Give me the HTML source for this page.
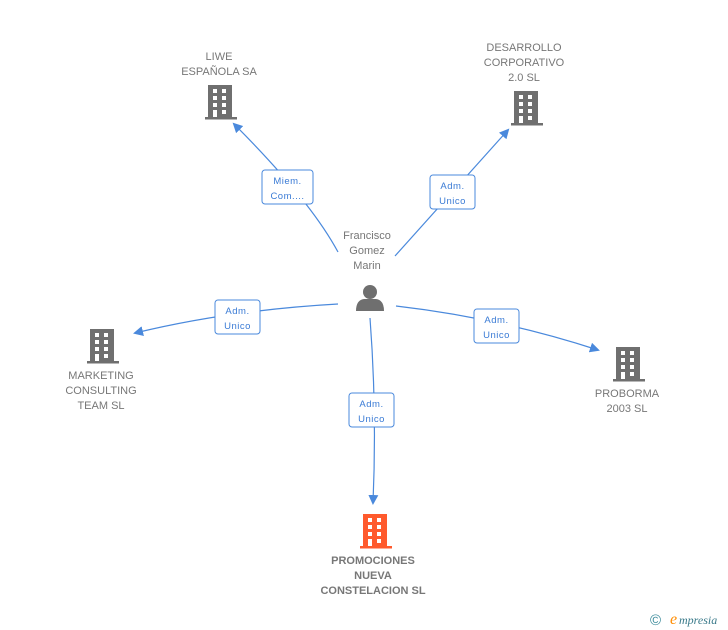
<!DOCTYPE html>
<html><head><style>
body{margin:0;background:#fff;}
svg{display:block;font-family:"Liberation Sans",sans-serif;}
.n{fill:#777;font-size:11px;text-anchor:middle;}
.l{fill:#3a7bd5;font-size:9.5px;text-anchor:middle;letter-spacing:0.5px;}
.e{stroke:#4a89dc;stroke-width:1.2;fill:none;}
.b{fill:#fff;stroke:#4a89dc;stroke-width:1;}
</style></head><body>
<svg width="728" height="630" viewBox="0 0 728 630">
<defs>
<g id="bld">
<rect x="3" y="0" width="24" height="32"/>
<rect x="0" y="32" width="32" height="2.5"/>
<g fill="#fff">
<rect x="8" y="4" width="4" height="4"/><rect x="17" y="4" width="4" height="4"/>
<rect x="8" y="11" width="4" height="4"/><rect x="17" y="11" width="4" height="4"/>
<rect x="8" y="18" width="4" height="4"/><rect x="17" y="18" width="4" height="4"/>
<rect x="8" y="25" width="4" height="7"/><rect x="17" y="25" width="4" height="4"/>
</g></g>
<marker id="a" markerWidth="10" markerHeight="10" refX="8" refY="5" orient="auto" markerUnits="userSpaceOnUse"><path d="M0,0 L10,5 L0,10 z" fill="#4a89dc"/></marker>
</defs>
<!-- edges -->
<path class="e" d="M338,252 Q310,200 234,124" marker-end="url(#a)"/>
<path class="e" d="M395,256 L508,130" marker-end="url(#a)"/>
<path class="e" d="M338,304 Q230,310 135,333" marker-end="url(#a)"/>
<path class="e" d="M396,306 Q500,318 598,350" marker-end="url(#a)"/>
<path class="e" d="M370,318 Q377,410 373,503" marker-end="url(#a)"/>
<!-- labels -->
<rect class="b" x="262" y="170" width="51" height="34" rx="3"/>
<text class="l" x="287.5" y="184">Miem.</text><text class="l" x="287.5" y="199">Com....</text>
<rect class="b" x="430" y="175" width="45" height="34" rx="3"/>
<text class="l" x="452.5" y="189">Adm.</text><text class="l" x="452.5" y="204">Unico</text>
<rect class="b" x="215" y="300" width="45" height="34" rx="3"/>
<text class="l" x="237.5" y="314">Adm.</text><text class="l" x="237.5" y="329">Unico</text>
<rect class="b" x="474" y="309" width="45" height="34" rx="3"/>
<text class="l" x="496.5" y="323">Adm.</text><text class="l" x="496.5" y="338">Unico</text>
<rect class="b" x="349" y="393" width="45" height="34" rx="3"/>
<text class="l" x="371.5" y="407">Adm.</text><text class="l" x="371.5" y="422">Unico</text>
<!-- buildings -->
<use href="#bld" x="205" y="85" fill="#6f6f6f"/>
<use href="#bld" x="511" y="91" fill="#6f6f6f"/>
<use href="#bld" x="87" y="329" fill="#6f6f6f"/>
<use href="#bld" x="613" y="347" fill="#6f6f6f"/>
<use href="#bld" x="360" y="514" fill="#ff5a2d"/>
<!-- person -->
<g fill="#6f6f6f">
<circle cx="370" cy="292" r="7"/>
<path d="M356,311 Q356,300 364,299 L376,299 Q384,300 384,311 z"/>
</g>
<text class="n" x="367" y="239">Francisco</text>
<text class="n" x="367" y="254">Gomez</text>
<text class="n" x="367" y="269">Marin</text>
<text class="n" x="219" y="60">LIWE</text>
<text class="n" x="219" y="75">ESPAÑOLA SA</text>
<text class="n" x="524" y="51">DESARROLLO</text>
<text class="n" x="524" y="66">CORPORATIVO</text>
<text class="n" x="524" y="81">2.0 SL</text>
<text class="n" x="101" y="379">MARKETING</text>
<text class="n" x="101" y="394">CONSULTING</text>
<text class="n" x="101" y="409">TEAM SL</text>
<text class="n" x="627" y="397">PROBORMA</text>
<text class="n" x="627" y="412">2003 SL</text>
<text class="n" x="373" y="564" style="font-weight:bold">PROMOCIONES</text>
<text class="n" x="373" y="579" style="font-weight:bold">NUEVA</text>
<text class="n" x="373" y="594" style="font-weight:bold">CONSTELACION SL</text>
<text x="650" y="625" fill="#3a8a9a" font-size="15">©</text>
<text x="670" y="624" fill="#ff8c00" font-size="16" font-style="italic" font-family="Liberation Serif,serif">e</text>
<text x="679" y="624" fill="#3a7a8a" font-size="12" font-style="italic" font-family="Liberation Serif,serif">mpresia</text>
</svg>
</body></html>
